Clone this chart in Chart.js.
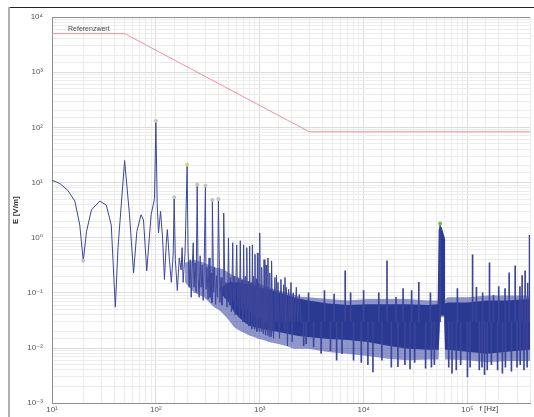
<!DOCTYPE html>
<html>
<head>
<meta charset="utf-8">
<script src="https://cdn.jsdelivr.net/npm/chart.js@4/dist/chart.umd.min.js"></script>
<style>
  html, body { margin: 0; padding: 0; background: #fff; }
  #wrap { position: relative; width: 534px; height: 417px; overflow: hidden; }
  #spectrumChart { display: block; }
  #frameTop { position: absolute; left: 8px; top: 7px; width: 526px; height: 1px; background: #222; }
  #frameLeft { position: absolute; left: 8px; top: 7px; width: 2px; height: 410px; background: #b0b0b0; }
</style>
</head>
<body>
<div id="wrap">
  <canvas id="spectrumChart" width="534" height="417"></canvas>
  <div id="frameTop"></div>
  <div id="frameLeft"></div>
</div>
<script>
// texts
const yTitle = "E [V/m]";
const xTitle = "f [Hz]";
const refLabel = "Referenzwert";

// axis ranges
const freqRange = [10, 400000];
const fieldRange = [0.001, 10000];

// reference level (V/m)
const refFreq = [10, 50, 3000, 400000];
const refLevel = [5000, 5000, 83, 83];

// measured spectrum [Hz, V/m]
const spectrumLow = [
  [10, 11], [11.9, 9.6], [14.2, 7.2], [16.6, 4.6], [18.5, 1.7], [20, 0.38], [21.5, 1.3],
  [24, 3.2], [28.8, 4.6], [33.3, 3.9], [37.2, 1.7], [40.7, 0.055], [43.2, 0.66], [50, 25],
  [55.7, 2.6], [61, 0.23], [65.6, 1.3], [72, 2.6], [76, 2.1], [81.7, 0.25], [90, 2.6],
  [97, 5.1], [100, 125]
];
const spectrumMid = [
  [103, 4.2], [106, 1.22], [111, 3.0], [116, 0.99], [121, 0.175], [126, 0.81], [129, 1.4],
  [135, 0.4], [141, 0.155], [147, 0.53], [150, 5.2], [154, 0.4], [161, 0.11], [168, 0.43],
  [175, 0.26], [179, 0.66], [183, 0.155], [191, 0.53], [200, 20], [204, 0.66], [209, 0.126],
  [214, 0.4], [219, 0.083], [224, 0.29], [229, 0.81], [233, 0.126], [239, 0.35], [244, 0.102],
  [250, 8.9], [255, 0.19], [261, 0.083], [267, 0.47], [273, 0.126], [279, 0.32], [285, 0.073],
  [291, 0.23], [300, 8.5], [304, 0.116], [311, 0.29], [318, 0.077], [325, 0.43], [332, 0.083],
  [340, 0.23], [347, 0.067], [350, 4.6], [360, 0.102], [367, 0.29], [376, 0.062], [384, 0.205],
  [393, 0.083], [400, 4.8], [414, 0.067], [424, 0.19], [433, 0.06], [443, 0.126], [450, 2.8],
  [463, 0.083], [473, 0.155], [484, 0.055], [494, 0.126], [500, 0.99], [511, 0.06], [522, 0.19],
  [534, 0.045], [550, 0.81], [558, 0.07], [568, 0.2], [580, 0.04], [600, 0.74], [612, 0.06],
  [625, 0.18], [637, 0.035], [650, 0.88], [662, 0.05], [675, 0.17], [688, 0.03], [700, 0.74],
  [712, 0.05], [725, 0.2], [738, 0.028], [750, 0.66], [762, 0.05], [775, 0.16], [788, 0.025],
  [800, 0.7], [812, 0.045], [825, 0.15], [838, 0.022], [850, 0.74], [862, 0.04], [875, 0.2],
  [888, 0.022], [900, 0.5], [912, 0.04], [925, 0.18], [938, 0.02], [950, 0.53], [962, 0.035],
  [975, 0.15], [988, 0.02], [1000, 1.22], [1015, 0.035], [1030, 0.13], [1040, 0.02], [1050, 0.29],
  [1070, 0.03], [1085, 0.018], [1100, 0.4], [1120, 0.03], [1135, 0.017], [1150, 0.32], [1170, 0.03],
  [1185, 0.017], [1200, 0.43], [1220, 0.03], [1235, 0.016], [1250, 0.23], [1270, 0.03], [1285, 0.016],
  [1300, 0.38], [1330, 0.03], [1360, 0.015], [1400, 0.19], [1425, 0.03], [1450, 0.21], [1475, 0.03],
  [1500, 0.155], [1550, 0.015], [1600, 0.175], [1650, 0.03], [1700, 0.14], [1725, 0.02], [1750, 0.19],
  [1780, 0.03], [1800, 0.126], [1850, 0.011], [1900, 0.116], [1950, 0.03], [2000, 0.155], [2050, 0.013],
  [2100, 0.1], [2170, 0.03], [2250, 0.126], [2320, 0.03], [2400, 0.094], [2500, 0.03]
];

// single lines above / below the noise floor at high frequency [Hz, V/m]
const hfBase = 0.03;
const hfSpikes = [
  [2650, 0.011], [2800, 0.012], [2950, 0.1], [3300, 0.0105], [3900, 0.008], [4200, 0.11],
  [4800, 0.009], [5200, 0.095], [5500, 0.006], [6200, 0.0079], [6650, 0.25], [7500, 0.1],
  [8000, 0.006], [9500, 0.0055], [10000, 0.11], [11000, 0.005], [12300, 0.0037], [14000, 0.1],
  [15000, 0.006], [16800, 0.38], [18500, 0.0045], [20500, 0.083], [21400, 0.0046], [24000, 0.12],
  [25000, 0.005], [28000, 0.0042], [29000, 0.11], [31000, 0.0055], [34000, 0.155], [39500, 0.0043],
  [44000, 0.1], [45000, 0.0045], [48000, 0.005], [54500, 1.7], [66000, 0.0045], [71000, 0.0035],
  [78000, 0.004], [80000, 0.12], [86000, 0.005], [100000, 0.003], [106000, 0.0045], [112000, 0.49],
  [122000, 0.126], [130000, 0.004], [138000, 0.0045], [140000, 0.1], [146000, 0.0033], [155000, 0.004],
  [163000, 0.35], [170000, 0.005], [178000, 0.09], [195000, 0.004], [200000, 0.13], [217000, 0.0035],
  [230000, 0.12], [232000, 0.0045], [252000, 0.23], [265000, 0.0038], [288000, 0.31], [300000, 0.0045],
  [320000, 0.13], [322000, 0.005], [336000, 0.205], [350000, 0.004], [359000, 0.25], [375000, 0.0045],
  [380000, 0.15], [396000, 1.1]
];

// dense noise floor: outer (light) and core (dark) envelopes
const bandFreq = [191, 233, 291, 363, 405, 453, 505, 564, 630, 703, 785, 877, 978, 1090, 1220,
  1520, 1900, 2110, 2360, 2940, 4570, 7110, 11000, 17100, 26700, 41400, 51600, 52800, 54500,
  56400, 59600, 60900, 61600, 64400, 100000, 155000, 241000, 400000];
const bandOuterTop = [0.35, 0.4, 0.35, 0.29, 0.28, 0.265, 0.23, 0.205, 0.19, 0.175, 0.16, 0.155,
  0.148, 0.136, 0.126, 0.11, 0.098, 0.094, 0.086, 0.083, 0.077, 0.073, 0.077, 0.077, 0.077, 0.073,
  0.073, 0.073, 0.073, 0.073, 0.073, 0.073, 0.077, 0.083, 0.083, 0.09, 0.09, 0.09];
const bandOuterBottom = [0.155, 0.102, 0.083, 0.055, 0.049, 0.04, 0.032, 0.024, 0.021, 0.019,
  0.017, 0.0158, 0.0146, 0.014, 0.0129, 0.0118, 0.0105, 0.0097, 0.0097, 0.0097, 0.0085, 0.0078,
  0.0072, 0.0064, 0.006, 0.0062, 0.0062, 0.0062, 0.036, 0.036, 0.036, 0.0062, 0.0062, 0.0062,
  0.006, 0.0055, 0.0058, 0.0058];
const bandCoreTop = [0.14, 0.12, 0.12, 0.116, 0.116, 0.136, 0.155, 0.155, 0.155, 0.148, 0.142,
  0.136, 0.126, 0.12, 0.116, 0.102, 0.09, 0.083, 0.079, 0.073, 0.064, 0.06, 0.062, 0.062, 0.062,
  0.06, 0.062, 1.4, 1.56, 1.56, 1.08, 0.95, 0.064, 0.067, 0.067, 0.073, 0.073, 0.077];
const bandCoreBottom = [0.14, 0.12, 0.12, 0.116, 0.116, 0.083, 0.067, 0.045, 0.036, 0.03, 0.026,
  0.024, 0.023, 0.022, 0.021, 0.0195, 0.018, 0.0173, 0.0166, 0.0158, 0.0146, 0.014, 0.0129, 0.011,
  0.0097, 0.0093, 0.0093, 0.0093, 0.039, 0.039, 0.039, 0.0093, 0.0093, 0.0093, 0.0086, 0.0079,
  0.0086, 0.0093];

// marked peaks
const peakMarks = [[20, 0.38], [100, 130], [150, 5.4], [200, 21], [250, 9.2], [300, 8.8],
  [350, 4.8], [400, 5.0], [54500, 1.8]];
const peakColors = ["#c4c4b8", "#c4c4b8", "#c4c4b8", "#cdd66e", "#c4c4b8", "#c4c4b8",
  "#c4c4b8", "#c4c4b8", "#78c23e"];

const fontFamily = '"Liberation Sans", Arial, "DejaVu Sans", sans-serif';
const supDigits = { "-": "\u207B", "0": "\u2070", "1": "\u00B9", "2": "\u00B2", "3": "\u00B3",
  "4": "\u2074", "5": "\u2075", "6": "\u2076", "7": "\u2077", "8": "\u2078", "9": "\u2079" };

function isDecade(v) {
  const e = Math.log10(v);
  return Math.abs(e - Math.round(e)) < 1e-6;
}
function decadeLabel(v) {
  if (!isDecade(v)) return "";
  return "10" + String(Math.round(Math.log10(v))).split("").map(c => supDigits[c]).join("");
}
const pairs = list => list.map(([x, y]) => ({ x, y }));
const zip = (xs, ys) => xs.map((x, i) => ({ x, y: ys[i] }));

const plotDecor = {
  id: "plotDecor",
  afterDraw(chart) {
    const { ctx, chartArea: a, scales } = chart;
    ctx.save();
    ctx.strokeStyle = "#8f8f8f";
    ctx.lineWidth = 1;
    ctx.beginPath();
    ctx.moveTo(a.left, a.top + 0.5);
    ctx.lineTo(a.right, a.top + 0.5);
    ctx.stroke();
    ctx.fillStyle = "#444";
    ctx.font = "7px " + fontFamily;
    ctx.textBaseline = "alphabetic";
    ctx.fillText(refLabel, a.left + 16, a.top + 14);
    ctx.font = "8px " + fontFamily;
    ctx.textBaseline = "middle";
    ctx.fillText(xTitle, scales.x.getPixelForValue(100000) + 12, a.bottom + 6);
    ctx.restore();
  }
};

const tickStyle = {
  autoSkip: false,
  maxRotation: 0,
  color: "#555",
  font: { size: 8, family: fontFamily },
  callback: v => decadeLabel(v)
};
const gridStyle = {
  drawTicks: false,
  offset: false,
  color: ctx => (ctx.tick && isDecade(ctx.tick.value) ? "#dcdcdc" : "#ececec")
};

new Chart(document.getElementById("spectrumChart"), {
  type: "line",
  data: {
    datasets: [
      {
        data: pairs(peakMarks),
        showLine: false,
        pointRadius: 2,
        pointBorderWidth: 0,
        pointBackgroundColor: peakColors,
        order: 0
      },
      {
        data: zip(refFreq, refLevel),
        borderColor: "#f0919f",
        borderWidth: 1,
        pointRadius: 0,
        order: 1
      },
      {
        data: pairs([...spectrumLow, ...spectrumMid]),
        borderColor: "#3d4699",
        borderWidth: 1,
        pointRadius: 0,
        order: 2
      },
      {
        type: "bar",
        data: hfSpikes.map(([f, v]) => ({ x: f, y: [hfBase, v] })),
        backgroundColor: "#3a4498",
        borderWidth: 0,
        barThickness: 1,
        grouped: false,
        order: 2
      },
      {
        data: zip(bandFreq, bandOuterTop),
        borderColor: "transparent",
        borderWidth: 0,
        pointRadius: 0,
        order: 4
      },
      {
        data: zip(bandFreq, bandOuterBottom),
        borderColor: "transparent",
        borderWidth: 0,
        pointRadius: 0,
        fill: "-1",
        backgroundColor: "rgba(66, 80, 170, 0.6)",
        order: 4
      },
      {
        data: zip(bandFreq, bandCoreTop),
        borderColor: "transparent",
        borderWidth: 0,
        pointRadius: 0,
        order: 3
      },
      {
        data: zip(bandFreq, bandCoreBottom),
        borderColor: "transparent",
        borderWidth: 0,
        pointRadius: 0,
        fill: "-1",
        backgroundColor: "#2a3a92",
        order: 3
      }
    ]
  },
  options: {
    responsive: false,
    devicePixelRatio: 1,
    animation: false,
    events: [],
    layout: { padding: { top: 17, right: 0, bottom: 0, left: 0 } },
    elements: { line: { tension: 0 } },
    plugins: { legend: { display: false }, tooltip: { enabled: false } },
    scales: {
      x: {
        type: "logarithmic",
        offset: false,
        min: freqRange[0],
        max: freqRange[1],
        afterFit: s => { s.height = 10; },
        grid: gridStyle,
        border: { display: true, color: "#8f8f8f" },
        ticks: { ...tickStyle, padding: 2 }
      },
      y: {
        type: "logarithmic",
        min: fieldRange[0],
        max: fieldRange[1],
        afterFit: s => { s.width = 52; },
        grid: gridStyle,
        border: { display: true, color: "#8f8f8f" },
        ticks: { ...tickStyle, padding: 9 },
        title: {
          display: true,
          text: yTitle,
          color: "#333",
          font: { size: 8, weight: "bold", family: fontFamily },
          padding: { top: 11, bottom: 0 }
        }
      }
    }
  },
  plugins: [plotDecor]
});
</script>
</body>
</html>
